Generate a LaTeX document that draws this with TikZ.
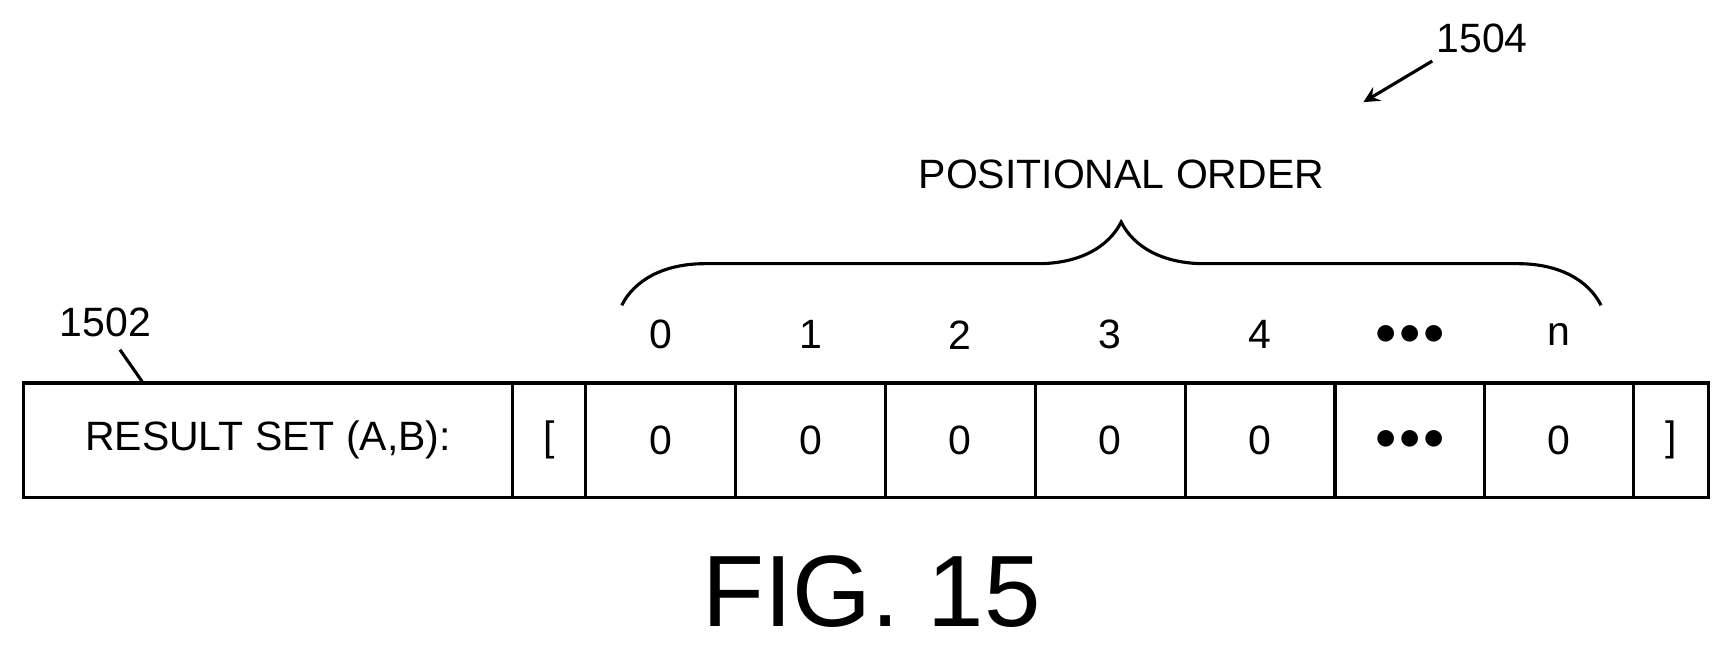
\documentclass[tikz,border=0pt]{standalone}
\usepackage{fontspec}
\setmainfont{Liberation Sans}
\usetikzlibrary{positioning, decorations.pathreplacing, arrows}

\begin{document}
\begin{tikzpicture}[
            cell/.style={rectangle, draw=black, thick, minimum height=1.03cm, inner sep=0pt, font=\fontsize{10.5}{12}\selectfont, anchor=west},
            label_style/.style={font=\fontsize{10.5}{12}\selectfont},
            arrow/.style={->, >=stealth, thick}
        ]
\useasboundingbox (0,0) rectangle (15.6,5.87);

% Result set row
            \node[cell, minimum width=4.40cm] (title) at (0.2,1.905) {RESULT SET (A,B):};
            \node[cell, minimum width=0.66cm] (open) at (4.60,1.905) {[};
            \node[cell, minimum width=1.35cm] (c0) at (5.26,1.905) {0};
            \node[cell, minimum width=1.35cm] (c1) at (6.61,1.905) {0};
            \node[cell, minimum width=1.35cm] (c2) at (7.96,1.905) {0};
            \node[cell, minimum width=1.35cm] (c3) at (9.31,1.905) {0};
            \node[cell, minimum width=1.35cm] (c4) at (10.66,1.905) {0};
            \node[cell, minimum width=1.35cm] (cdots) at (12.01,1.905) {$\bullet\!\bullet\!\bullet$};
            \node[cell, minimum width=1.34cm] (cn) at (13.36,1.905) {0};
            \node[cell, minimum width=0.67cm] (close) at (14.70,1.905) {]};

% Position indices
            \foreach \i/\t in {c0/0, c1/1, c2/2, c3/3, c4/4, cdots/$\bullet\!\bullet\!\bullet$, cn/n}
                \node[label_style] (idx_\i) at ([yshift=0.95cm]\i.center) {\t};

% Positional order brace
            \coordinate (brace_l) at (5.60,3.12);
            \coordinate (brace_r) at (14.42,3.12);
            \draw[thick, decoration={brace, amplitude=0.75cm, aspect=0.51}, decorate] (brace_l) -- (brace_r);
            \node[label_style] (order) at (10.10,4.30) {POSITIONAL ORDER};

% Reference numerals
            \node[label_style] (ref1502) at (0.95,2.97) {1502};
            \draw[thick] (1.08,2.72) -- (title.north west -| 1.28,0);
            \node[label_style] (ref1504) at (13.35,5.52) {1504};
            \coordinate (tip1504) at (12.28,4.95);
            \draw[arrow] (12.90,5.32) -- (tip1504);

% Figure caption
            \node[font=\fontsize{26}{30}\selectfont] (fig) at (7.85,0.54) {FIG. 15};

        \end{tikzpicture}
\end{document}
